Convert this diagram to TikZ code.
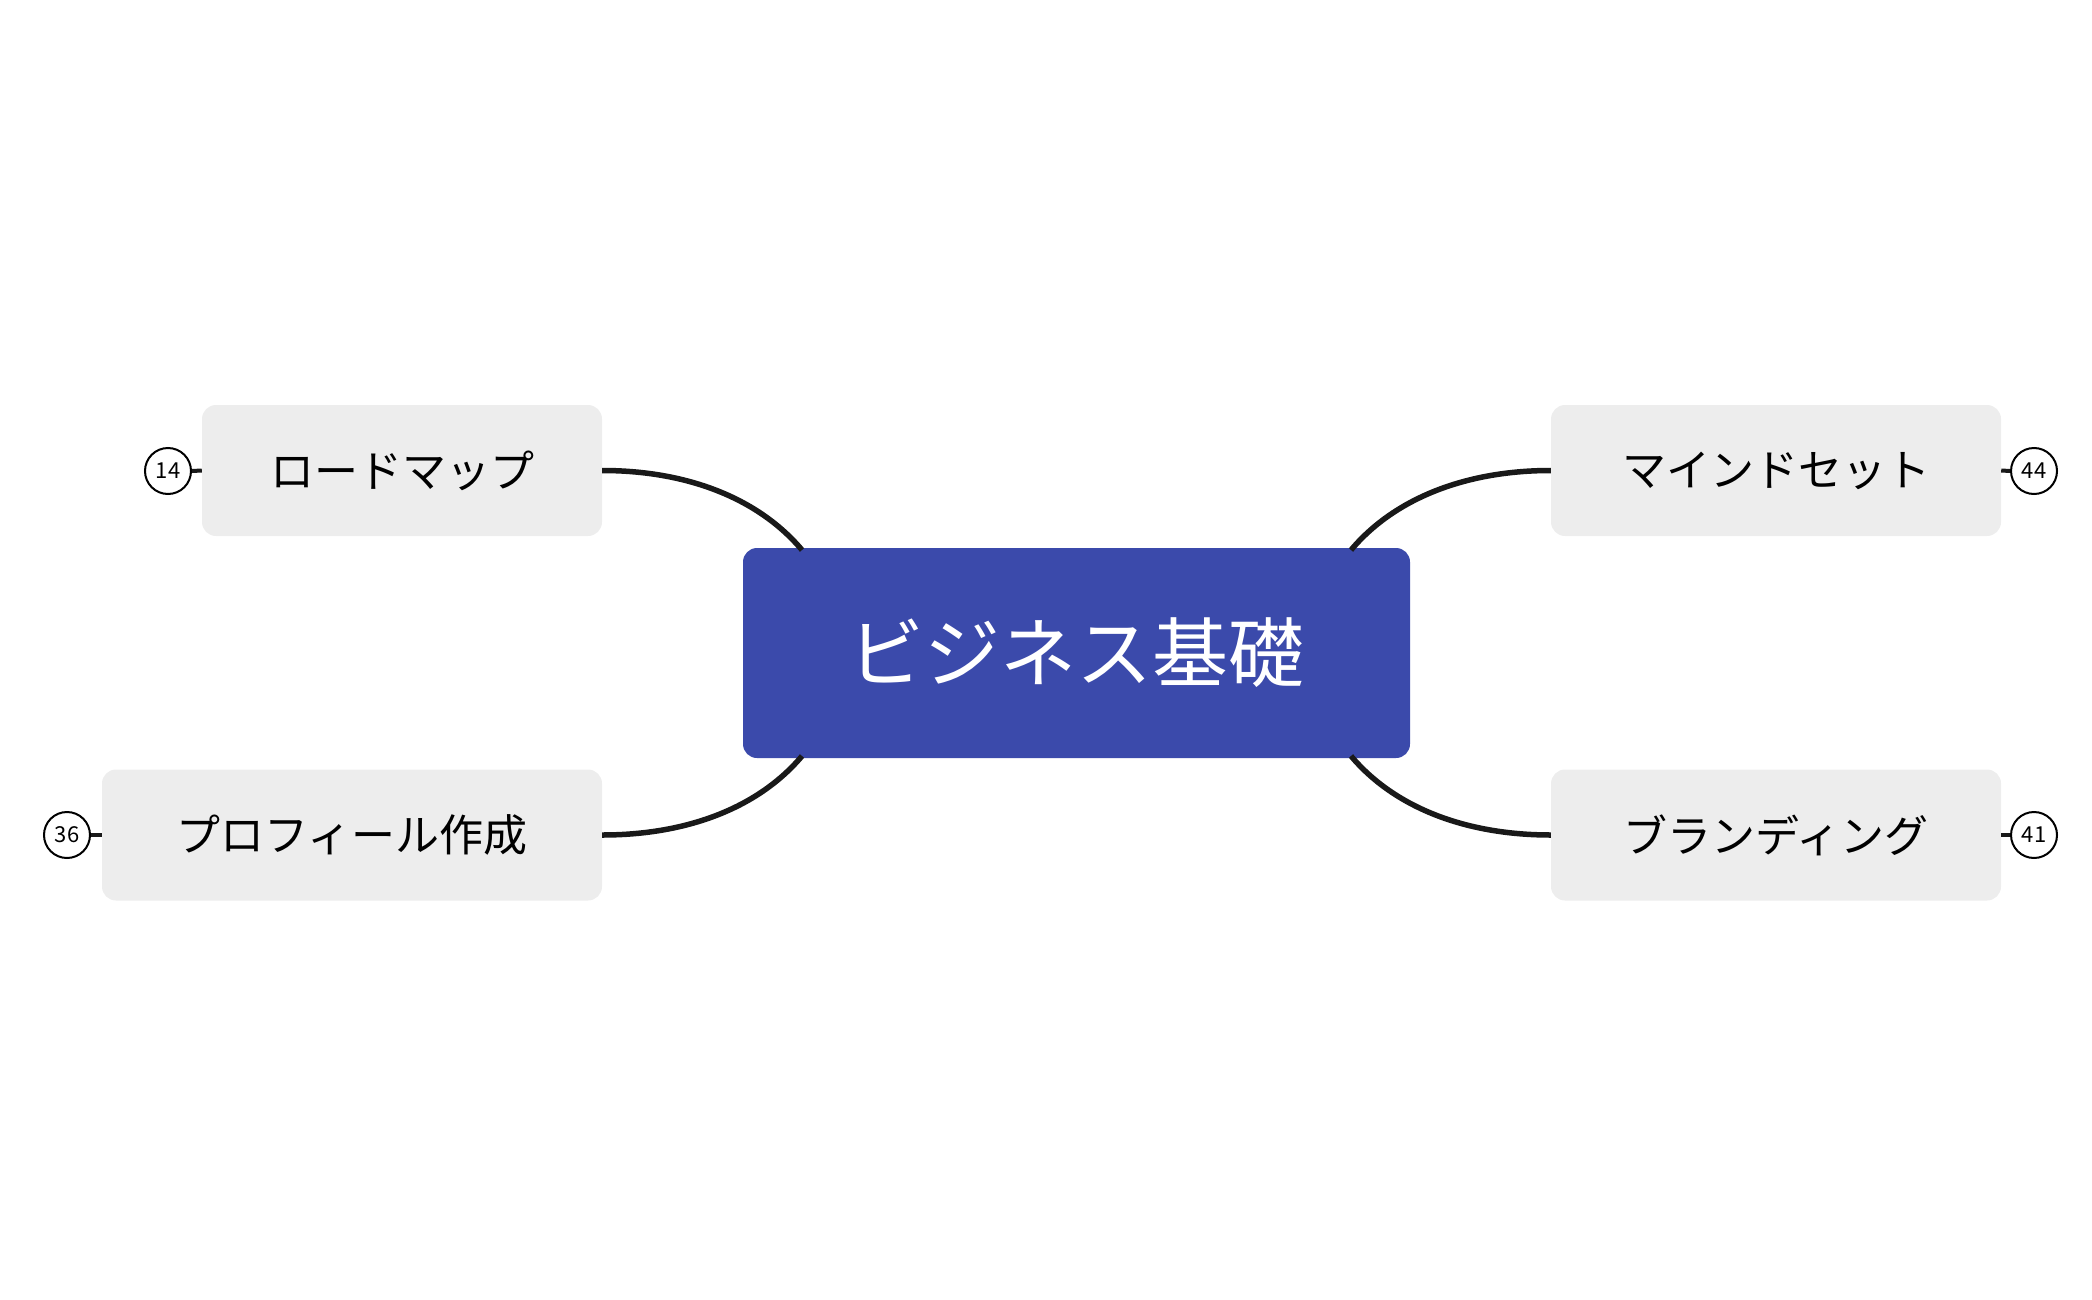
\documentclass[tikz,border=0pt]{standalone}
\usepackage{fontspec}
\setmainfont{Noto Sans CJK JP}
\begin{document}
\begin{tikzpicture}[x=1pt,y=-1pt,
  branch/.style={fill=black!7,rounded corners=14pt,inner sep=0pt,font=\fontsize{44}{50}\selectfont},
  conn/.style={line width=5.5pt,draw=black!90},
  num/.style={circle,draw,line width=2pt,minimum size=46pt,inner sep=0pt,font=\fontsize{22}{24}\selectfont,fill=white},
  tick/.style={line width=4pt,draw=black!90}]
\useasboundingbox (0,0) rectangle (2092,1300);
\node[fill={rgb,255:red,59;green,74;blue,171},rounded corners=14pt,minimum width=667pt,minimum height=210pt,text=white,font=\fontsize{76}{84}\selectfont] (c) at (1076.5,653) {ビジネス基礎};
\node[branch,minimum width=400pt,minimum height=131pt] (a) at (402,470.5) {ロードマップ};
\node[branch,minimum width=500pt,minimum height=131pt] (b) at (352,835) {プロフィール作成};
\node[branch,minimum width=450pt,minimum height=131pt] (d) at (1776,470.5) {マインドセット};
\node[branch,minimum width=450pt,minimum height=131pt] (e) at (1776,835) {ブランディング};
\coordinate (c1) at (802,550);
\coordinate (c2) at (802,756);
\coordinate (c3) at (1351,550);
\coordinate (c4) at (1351,756);
\draw[conn] (c1) .. controls (760,500) and (690,470.5) .. (a.east);
\draw[conn] (c2) .. controls (760,806) and (690,835) .. (b.east);
\draw[conn] (c3) .. controls (1393,500) and (1463,470.5) .. (d.west);
\draw[conn] (c4) .. controls (1393,806) and (1463,835) .. (e.west);
\node[num] (n1) at (168,471) {14};
\node[num] (n2) at (67,835) {36};
\node[num] (n3) at (2034,471) {44};
\node[num] (n4) at (2034,835) {41};
\draw[tick] (n1.east) -- (a.west);
\draw[tick] (n2.east) -- (b.west);
\draw[tick] (n3.west) -- (d.east);
\draw[tick] (n4.west) -- (e.east);
\end{tikzpicture}
\end{document}
